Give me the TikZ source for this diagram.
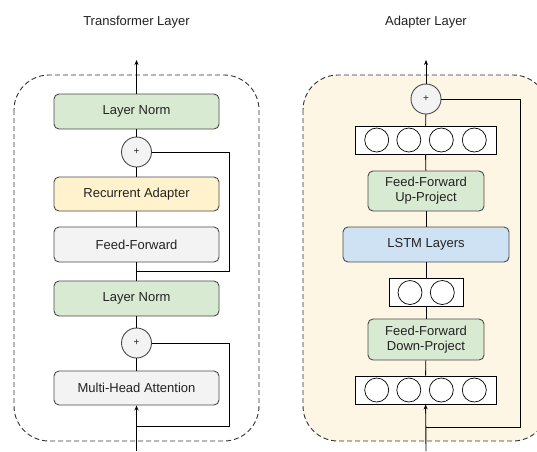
\documentclass[tikz,border=0pt]{standalone}
\usepackage{fontspec}
\setmainfont{Liberation Sans}
\usetikzlibrary{arrows.meta}
\definecolor{ink}{HTML}{222222}
\definecolor{edge}{HTML}{4A4A4A}
\definecolor{greenfill}{HTML}{D9EAD3}
\definecolor{yellowfill}{HTML}{FFF2CC}
\definecolor{grayfill}{HTML}{F3F3F3}
\definecolor{bluefill}{HTML}{CFE2F3}
\definecolor{creamfill}{HTML}{FEF6E4}
\tikzset{
  txt/.style={font=\fontsize{13}{15}\selectfont, text=ink},
  block/.style={txt, draw=edge, line width=0.9pt, rounded corners=5pt,
    inner sep=0pt, align=center},
  sumnode/.style={txt, circle, draw=edge, line width=0.9pt, fill=grayfill,
    minimum size=30pt, inner sep=0pt, font=\fontsize{10}{12}\selectfont},
  vecbox/.style={draw=black, line width=0.8pt, fill=white, inner sep=0pt},
  unit/.style={circle, draw=black, line width=0.7pt, fill=white,
    minimum size=24pt, inner sep=0pt},
  wire/.style={draw=black, line width=0.9pt},
  flow/.style={wire, -{Stealth[length=5pt,width=4pt]}},
  outline/.style={draw=black!80, line width=0.9pt, dash pattern=on 5pt off 3pt,
    rounded corners=35pt},
}
\begin{document}
\begin{tikzpicture}[x=1pt, y=-1pt]
\useasboundingbox (0,0) rectangle (537,451);
\clip (0,0) rectangle (537,451);

% ---------- Transformer layer ----------
\node[txt] (ttitle) at (136.5,22) {Transformer Layer};
\draw[outline] (14,75) rectangle (259,441);

\node[block, fill=greenfill, minimum width=165pt, minimum height=35pt] (ln1) at (136.5,111.5) {Layer Norm};
\node[sumnode] (p1) at (136.5,152) {+};
\node[block, fill=yellowfill, minimum width=165pt, minimum height=34pt] (ra) at (136.5,194) {Recurrent Adapter};
\node[block, fill=grayfill, minimum width=165pt, minimum height=35pt] (ff) at (136.5,244.5) {Feed-Forward};
\node[block, fill=greenfill, minimum width=165pt, minimum height=35pt] (ln2) at (136.5,298.5) {Layer Norm};
\node[sumnode] (p2) at (136.5,343) {+};
\node[block, fill=grayfill, minimum width=165pt, minimum height=34pt] (mha) at (136.5,388) {Multi-Head Attention};

\coordinate (tout) at (136.5,60);
\coordinate (tin) at (136.5,451);
\coordinate (j1) at (136.5,271);
\coordinate (j2) at (136.5,426);
\coordinate (k1) at (229,271);
\coordinate (k2) at (229,426);

\draw[flow] (ln1) -- (tout);
\draw[wire] (p1) -- (ln1);
\draw[wire] (ra) -- (p1);
\draw[wire] (ff) -- (ra);
\draw[wire] (ln2) -- (ff);
\draw[wire] (p2) -- (ln2);
\draw[wire] (mha) -- (p2);
\draw[flow] (tin) -- (mha);
\draw[wire] (p1.east) -| (k1) -- (j1);
\draw[wire] (p2.east) -| (k2) -- (j2);

% ---------- Adapter layer ----------
\node[txt] (atitle) at (426,22) {Adapter Layer};
\draw[outline, fill=creamfill] (303,75) rectangle (548,441);

\node[sumnode] (ap) at (426,99) {+};

\node[vecbox, minimum width=141pt, minimum height=28pt] (vtop) at (425.5,140) {};
\foreach \i/\cx in {1/376.7, 2/408.8, 3/441.3, 4/474.3}
  \node[unit] (vt\i) at (\cx,140) {};

\node[block, fill=greenfill, minimum width=116pt, minimum height=40pt] (up) at (426,191) {Feed-Forward\\Up-Project};
\node[block, fill=bluefill, minimum width=166pt, minimum height=35pt] (lstm) at (426,244.5) {LSTM Layers};

\node[vecbox, minimum width=74pt, minimum height=28.5pt] (vmid) at (426,292.5) {};
\foreach \i/\cx in {1/410, 2/442.3}
  \node[unit] (vm\i) at (\cx,292.5) {};

\node[block, fill=greenfill, minimum width=116pt, minimum height=41pt] (down) at (426,339.5) {Feed-Forward\\Down-Project};

\node[vecbox, minimum width=141pt, minimum height=28pt] (vbot) at (425.5,390) {};
\foreach \i/\cx in {1/376.7, 2/408.8, 3/441.3, 4/474.3}
  \node[unit] (vb\i) at (\cx,390) {};

\coordinate (aout) at (426,60);
\coordinate (ain) at (426,451);
\coordinate (aj) at (426,427);
\coordinate (ak) at (520,427);

\draw[flow] (ap) -- (aout);
\draw[wire] (vtop) -- (ap);
\draw[wire] (up) -- (vtop);
\draw[wire] (lstm) -- (up);
\draw[wire] (vmid) -- (lstm);
\draw[wire] (down) -- (vmid);
\draw[wire] (vbot) -- (down);
\draw[flow] (ain) -- (vbot);
\draw[wire] (ap.east) -| (ak) -- (aj);
\end{tikzpicture}
\end{document}
